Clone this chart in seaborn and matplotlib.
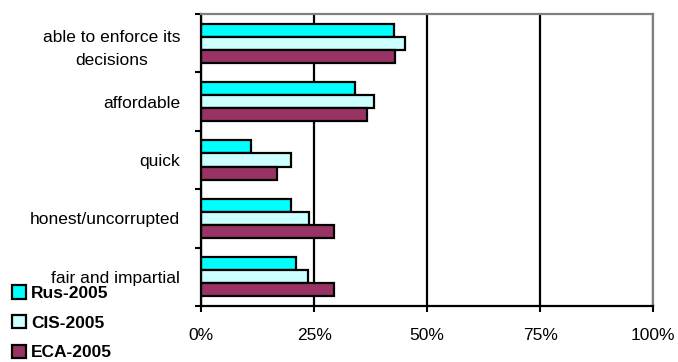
import matplotlib
matplotlib.use("Agg")
import matplotlib.pyplot as plt
import seaborn as sns
import pandas as pd
from matplotlib.ticker import FixedLocator

categories = ["able to enforce its\ndecisions", "affordable", "quick",
              "honest/uncorrupted", "fair and impartial"]
series = ["Rus-2005", "CIS-2005", "ECA-2005"]
rus = [42.7, 34.0, 11.0, 20.0, 21.1]
cis = [45.0, 38.3, 20.0, 23.9, 23.7]
eca = [43.0, 36.8, 16.9, 29.3, 29.4]
colors = ["#00FFFF", "#CCFFFF", "#993366"]
xticks = [0, 25, 50, 75, 100]

df = pd.DataFrame({
    "category": categories * 3,
    "series": [s for s in series for _ in categories],
    "value": rus + cis + eca,
})

sns.set_theme(style="white")
plt.rcParams["font.family"] = ["Liberation Sans", "DejaVu Sans"]
plt.rcParams["text.color"] = "black"
plt.rcParams["xtick.color"] = "black"
plt.rcParams["ytick.color"] = "black"

fig = plt.figure(figsize=(6.78, 3.62), dpi=100)
ax = fig.add_axes([0.2965, 0.155, 0.667, 0.806])

sns.barplot(data=df, x="value", y="category", hue="series", order=categories,
            hue_order=series, palette=colors, saturation=1, orient="h",
            width=0.67, edgecolor="black", linewidth=1.6, ax=ax, legend=True)

handles, labels = ax.get_legend_handles_labels()
ax.get_legend().remove()

ax.set_xlim(0, 100)
ax.set_ylim(len(categories) - 0.5, -0.5)
ax.set_xticks(xticks)
ax.set_xticklabels([f"{t}%" for t in xticks], fontsize=12.5)
ax.set_yticks(range(len(categories)))
ax.set_yticklabels(categories, fontsize=12.5, multialignment="center",
                   linespacing=1.7)
ax.yaxis.set_minor_locator(FixedLocator([i - 0.5 for i in range(len(categories) + 1)]))
ax.tick_params(axis="y", which="major", length=0, pad=15)
ax.tick_params(axis="y", which="minor", left=True, length=4, width=1.5)
ax.tick_params(axis="x", which="major", bottom=True, length=4, width=1.5, pad=12)
ax.set_xlabel("")
ax.set_ylabel("")

ax.xaxis.grid(True, color="black", linewidth=1.6)
ax.set_axisbelow(True)
for side in ["left", "bottom"]:
    ax.spines[side].set_color("black")
    ax.spines[side].set_linewidth(1.6)
for side in ["top", "right"]:
    ax.spines[side].set_color("#808080")
    ax.spines[side].set_linewidth(1.6)

fig.legend(handles, labels, loc="upper left", bbox_to_anchor=(0.0, 0.245),
           frameon=False, prop={"weight": "bold", "size": 12.5},
           handlelength=0.8, handleheight=0.8, handletextpad=0.3,
           labelspacing=0.8, borderaxespad=0.3)

fig.savefig("out.png", dpi=100)
